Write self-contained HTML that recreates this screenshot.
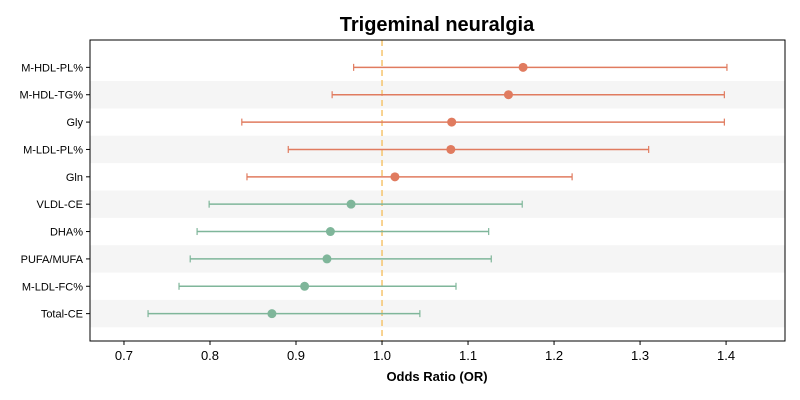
<!DOCTYPE html>
<html><head><meta charset="utf-8"><style>
body{margin:0;background:#fff;}
svg{display:block;font-family:"Liberation Sans","DejaVu Sans",sans-serif;}
</style></head><body>
<svg id="chart" width="800" height="400">
<text x="437" y="31" text-anchor="middle" font-size="20" font-weight="bold">Trigeminal neuralgia</text>
<g id="bands"></g><g id="ref"></g><g id="marks"></g><g id="yaxis"></g><g id="xaxis"></g>
<rect x="90" y="40" width="695" height="301" fill="none" stroke="#000" stroke-width="1"/>
<text x="437" y="381" text-anchor="middle" font-size="13" font-weight="bold">Odds Ratio (OR)</text>
</svg>
<script>
const labels=["M-HDL-PL%","M-HDL-TG%","Gly","M-LDL-PL%","Gln","VLDL-CE","DHA%","PUFA/MUFA","M-LDL-FC%","Total-CE"];
const orValues=[1.164,1.147,1.081,1.080,1.015,0.964,0.940,0.936,0.910,0.872];
const lowerCI=[0.967,0.942,0.837,0.891,0.843,0.799,0.785,0.777,0.764,0.728];
const upperCI=[1.401,1.398,1.398,1.310,1.221,1.163,1.124,1.127,1.086,1.044];
const xTicks=[0.7,0.8,0.9,1.0,1.1,1.2,1.3,1.4];
const refValue=1.0;
const NS="http://www.w3.org/2000/svg";
const L=90,R=785,T=40,B=341;
const xMin=0.6605,xMax=1.4685;
const x=v=>L+(v-xMin)/(xMax-xMin)*(R-L);
const n=labels.length;
const rowH=(B-T)/(n+1);
const y=i=>T+rowH*(i+1);
function el(tag,attrs,parent){const e=document.createElementNS(NS,tag);for(const k in attrs)e.setAttribute(k,attrs[k]);document.getElementById(parent).appendChild(e);return e;}
for(let i=0;i<n;i++){
  if(i%2===1){const b=el("rect",{x:L,y:y(i)-rowH/2,width:R-L,height:rowH,fill:"#f5f5f5"},"bands");
  
  }
}
const rl=el("line",{x1:x(refValue),x2:x(refValue),y1:T,y2:B,stroke:"#f5c46e","stroke-width":1.5,"stroke-dasharray":"6,4"},"ref");


for(let i=0;i<n;i++){
  const c=orValues[i]>=1?"#e07b5f":"#7fb69a";
  const yy=y(i);
  const g=el("g",{},"marks");
  
  
  const mk=(t,a)=>{const e=document.createElementNS(NS,t);for(const k in a)e.setAttribute(k,a[k]);g.appendChild(e);return e;};
  mk("line",{x1:x(lowerCI[i]),x2:x(upperCI[i]),y1:yy,y2:yy,stroke:c,"stroke-width":1.5});
  mk("line",{x1:x(lowerCI[i]),x2:x(lowerCI[i]),y1:yy-3.5,y2:yy+3.5,stroke:c,"stroke-width":1.2});
  mk("line",{x1:x(upperCI[i]),x2:x(upperCI[i]),y1:yy-3.5,y2:yy+3.5,stroke:c,"stroke-width":1.2});
  mk("circle",{cx:x(orValues[i]),cy:yy,r:4.5,fill:c});
  const tk=el("line",{x1:L-4,x2:L,y1:yy,y2:yy,stroke:"#000"},"yaxis");
  
  
  const t=el("text",{x:L-7,y:yy+4,"text-anchor":"end","font-size":11},"yaxis");
  t.textContent=labels[i];
  
  
}
xTicks.forEach(v=>{
  const tk=el("line",{x1:x(v),x2:x(v),y1:B,y2:B+4,stroke:"#000"},"xaxis");
  
  
  const t=el("text",{x:x(v),y:B+19,"text-anchor":"middle","font-size":13},"xaxis");
  t.textContent=v.toFixed(1);
  
  
});
</script>
</body></html>
